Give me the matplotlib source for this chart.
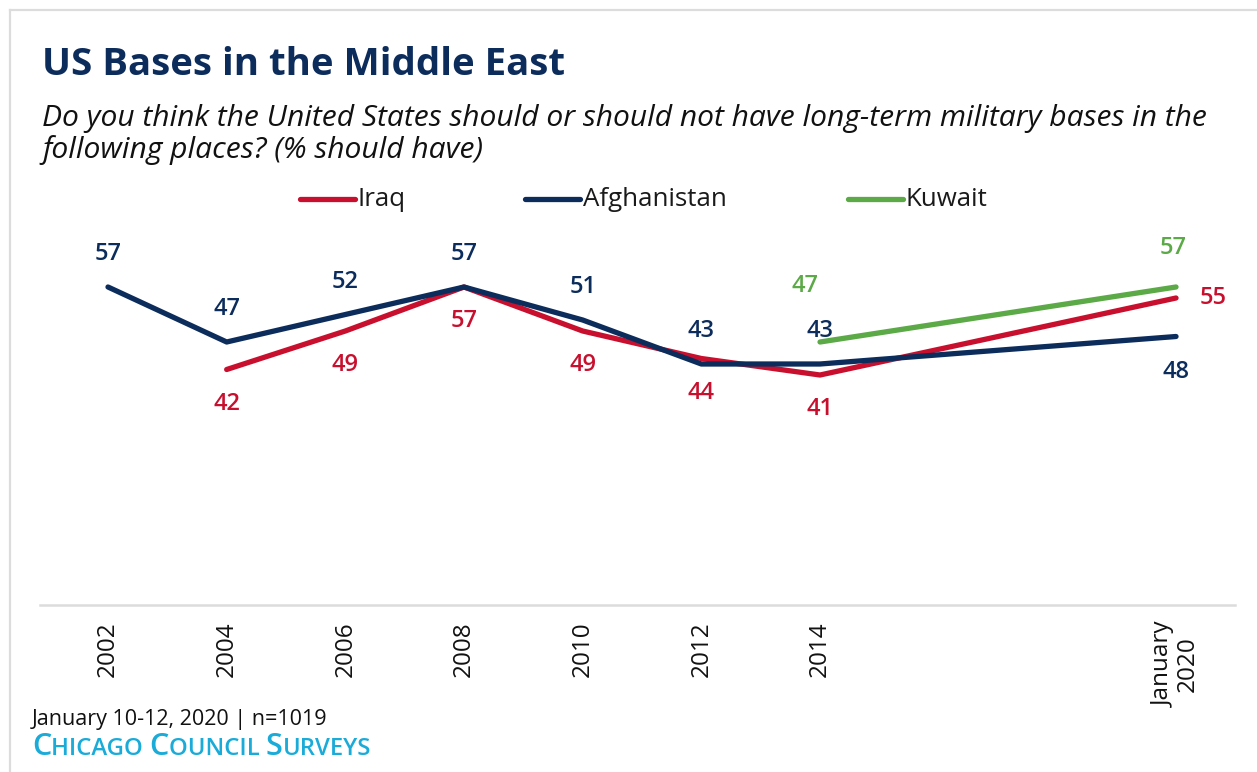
import matplotlib
matplotlib.use("Agg")
import matplotlib.pyplot as plt
from matplotlib.lines import Line2D

# ---- data -------------------------------------------------------------
years = [2002, 2004, 2006, 2008, 2010, 2012, 2014, 2020]
tick_labels = ["2002", "2004", "2006", "2008", "2010", "2012", "2014", "January\n2020"]

iraq_years = [2004, 2006, 2008, 2010, 2012, 2014, 2020]
iraq = [42, 49, 57, 49, 44, 41, 55]

afghanistan_years = [2002, 2004, 2006, 2008, 2010, 2012, 2014, 2020]
afghanistan = [57, 47, 52, 57, 51, 43, 43, 48]

kuwait_years = [2014, 2020]
kuwait = [47, 57]

series_names = ["Iraq", "Afghanistan", "Kuwait"]

# ---- style ------------------------------------------------------------
RED = "#C8102E"
NAVY = "#0C2C5C"
GREEN = "#5BA947"
CYAN = "#1AABD9"
GRID = "#DCDCDC"
FONT = "Open Sans"

W, H = 1257, 772
fig = plt.figure(figsize=(W / 100, H / 100), dpi=100)
renderer = fig.canvas.get_renderer()


def fx(px):
    return px / W


def fy(py):
    return 1 - py / H


def fit_width(text, target_px):
    """Scale a text's font size so that it spans target_px pixels."""
    w = text.get_window_extent(renderer).width
    text.set_fontsize(text.get_fontsize() * target_px / w)
    return text.get_fontsize()


# outer frame (left + top)
fig.add_artist(Line2D([fx(10), fx(10)], [0, fy(10)], color=GRID, lw=1.6))
fig.add_artist(Line2D([fx(10), 1], [fy(10), fy(10)], color=GRID, lw=1.6))

ax = fig.add_axes([fx(40), fy(605), fx(1235) - fx(40), fy(230) - fy(605)])
ax.set_xlim(2000.854, 2020.994)
ax.set_ylim(-0.818, 67.364)
for side in ("top", "right", "left"):
    ax.spines[side].set_visible(False)
ax.spines["bottom"].set_color(GRID)
ax.spines["bottom"].set_linewidth(1.8)
ax.set_yticks([])
ax.set_xticks(years, tick_labels)
ax.tick_params(axis="x", length=0, pad=12)
for lab in ax.get_xticklabels():
    lab.set_rotation(90)
    lab.set_fontsize(17.5)
    lab.set_family(FONT)
    lab.set_color("#111111")
    lab.set_va("top")
    lab.set_ha("center")
    lab.set_multialignment("center")
    lab.set_linespacing(1.0)

series = [
    ("Iraq", iraq_years, iraq, RED, (0, -34), {2020: (37, 0)}),
    ("Afghanistan", afghanistan_years, afghanistan, NAVY, (0, 33), {2020: (0, -35)}),
    ("Kuwait", kuwait_years, kuwait, GREEN, (-3, 39), {2014: (-15, 56)}),
]

for name, xs, ys, color, off, special in series:
    ax.plot(xs, ys, color=color, lw=3.8, solid_capstyle="round",
            solid_joinstyle="round", zorder=3 if name != "Kuwait" else 4)
    for x, y in zip(xs, ys):
        dx, dy = special.get(x, off)
        ax.annotate(str(y), (x, y), xytext=(dx, dy), textcoords="offset pixels",
                    ha="center", va="center", fontsize=17, color=color,
                    family=FONT, fontweight="semibold")

# legend
legend_pos = {"Iraq": 300, "Afghanistan": 525, "Kuwait": 848}
legend_colors = {"Iraq": RED, "Afghanistan": NAVY, "Kuwait": GREEN}
legend_texts = {}
for name in series_names:
    x0 = legend_pos[name]
    fig.add_artist(Line2D([fx(x0), fx(x0 + 55)], [fy(199), fy(199)],
                          color=legend_colors[name], lw=3.8, solid_capstyle="round"))
    legend_texts[name] = fig.text(fx(x0 + 58), fy(199), name, ha="left", va="center",
                                  fontsize=16, color="#1A1A1A", family=FONT)
leg_size = fit_width(legend_texts["Afghanistan"], 144)
for t in legend_texts.values():
    t.set_fontsize(leg_size)

# titles
title = fig.text(fx(42), fy(75), "US Bases in the Middle East", ha="left", va="baseline",
                 fontsize=26, fontweight="bold", color=NAVY, family=FONT)
fit_width(title, 523)
sub1 = fig.text(fx(42), fy(126),
                "Do you think the United States should or should not have long-term military bases in the",
                ha="left", va="baseline", fontsize=17.5, style="italic", color="#111111", family=FONT)
sub_size = fit_width(sub1, 1165)
fig.text(fx(42), fy(158), "following places? (% should have)",
         ha="left", va="baseline", fontsize=sub_size, style="italic", color="#111111", family=FONT)

# footer
note = fig.text(fx(32), fy(725), "January 10-12, 2020 | n=1019", ha="left", va="baseline",
                fontsize=14, color="#111111", family=FONT)
fit_width(note, 298)

# small-caps source line
pieces = [("C", 1.0), ("HICAGO ", 0.78), ("C", 1.0), ("OUNCIL ", 0.78), ("S", 1.0), ("URVEYS", 0.78)]


def draw_source(base):
    x_cursor = fx(32)
    arts = []
    for txt, rel in pieces:
        t = fig.text(x_cursor, fy(755), txt, ha="left", va="baseline", fontsize=base * rel,
                     color=CYAN, family=FONT, fontweight="semibold")
        x_cursor += t.get_window_extent(renderer).width / W
        arts.append(t)
    return arts, (x_cursor - fx(32)) * W


arts, width = draw_source(17)
for a in arts:
    a.remove()
draw_source(17 * 338 / width)

fig.savefig("out.png", dpi=100)
